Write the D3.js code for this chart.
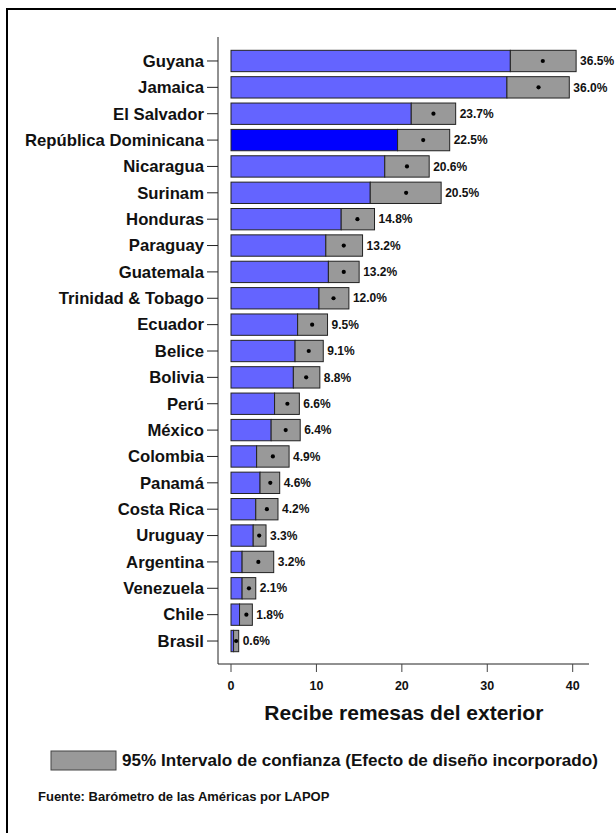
<!DOCTYPE html>
<html><head><meta charset="utf-8">
<script src="https://cdn.jsdelivr.net/npm/d3@7"></script>
<style>body{margin:0;background:#fff}svg{display:block;font-family:"Liberation Sans",Arial,sans-serif}</style>
</head><body><svg id="c" width="616" height="833"></svg>
<script>
const countries = ["Guyana","Jamaica","El Salvador","República Dominicana","Nicaragua","Surinam","Honduras","Paraguay","Guatemala","Trinidad & Tobago","Ecuador","Belice","Bolivia","Perú","México","Colombia","Panamá","Costa Rica","Uruguay","Argentina","Venezuela","Chile","Brasil"];
const means = [36.5,36.0,23.7,22.5,20.6,20.5,14.8,13.2,13.2,12.0,9.5,9.1,8.8,6.6,6.4,4.9,4.6,4.2,3.3,3.2,2.1,1.8,0.6];
const ciLow = [32.7,32.3,21.1,19.5,18.0,16.3,12.9,11.1,11.4,10.3,7.8,7.5,7.3,5.1,4.7,3.0,3.4,2.9,2.6,1.3,1.3,1.0,0.3];
const ciHigh = [40.4,39.6,26.3,25.6,23.2,24.6,16.8,15.4,15.0,13.8,11.3,10.8,10.4,8.0,8.1,6.8,5.7,5.5,4.1,5.0,2.9,2.5,0.9];
const highlight = "República Dominicana";
const xTicks = [0,10,20,30,40];
const xTitle = "Recibe remesas del exterior";
const legendText = "95% Intervalo de confianza (Efecto de diseño incorporado)";
const sourceText = "Fuente: Barómetro de las Américas por LAPOP";

const svg = d3.select("#c");
// frame
svg.append("rect").attr("x",7).attr("y",9).attr("width",640).attr("height",860)
  .attr("fill","none").attr("stroke","#000").attr("stroke-width",2);

const x = d3.scaleLinear().domain([0,40]).range([231,572.7]);
const y = d3.scaleBand().domain(countries).range([47.8,654.2]).paddingInner(0.19).paddingOuter(0.095);

const data = countries.map((c,i)=>({c,m:means[i],lo:ciLow[i],hi:ciHigh[i]}));

// y axis
svg.append("line").attr("x1",218).attr("x2",218).attr("y1",37).attr("y2",664).attr("stroke","#222").attr("stroke-width",1);
const yg = svg.append("g");
yg.selectAll("line").data(countries).join("line")
  .attr("x1",207).attr("x2",218).attr("y1",d=>y(d)+y.bandwidth()/2).attr("y2",d=>y(d)+y.bandwidth()/2)
  .attr("stroke","#222");
yg.selectAll("text").data(countries).join("text")
  .attr("x",204).attr("y",d=>y(d)+y.bandwidth()/2).attr("dy","0.35em")
  .attr("text-anchor","end").attr("font-weight","bold").attr("font-size","16.7px").attr("fill","#111").text(d=>d);

// x axis
svg.append("line").attr("x1",218).attr("x2",589).attr("y1",664).attr("y2",664).attr("stroke","#222");
const xg = svg.append("g");
xg.selectAll("line").data(xTicks).join("line")
  .attr("x1",d=>x(d)).attr("x2",d=>x(d)).attr("y1",664).attr("y2",672).attr("stroke","#444");
xg.selectAll("text").data(xTicks).join("text")
  .attr("x",d=>x(d)).attr("y",690).attr("text-anchor","middle").attr("font-weight","bold")
  .attr("font-size","12.5px").attr("fill","#111").text(d=>d);
svg.append("text").attr("x",(x(0)+x(40))/2+2).attr("y",720).attr("text-anchor","middle")
  .attr("font-weight","bold").attr("font-size","21px").attr("fill","#111").text(xTitle);

// bars
const bars = svg.append("g");
bars.selectAll("rect.main").data(data).join("rect").attr("class","main")
  .attr("x",x(0)).attr("y",d=>y(d.c)).attr("width",d=>x(d.lo)-x(0)).attr("height",y.bandwidth())
  .attr("fill",d=>d.c===highlight?"#0000ff":"#6464ff").attr("stroke","#222").attr("stroke-width",1);
bars.selectAll("rect.ci").data(data).join("rect").attr("class","ci")
  .attr("x",d=>x(d.lo)).attr("y",d=>y(d.c)).attr("width",d=>x(d.hi)-x(d.lo)).attr("height",y.bandwidth())
  .attr("fill","#999999").attr("stroke","#222").attr("stroke-width",1);
bars.selectAll("circle").data(data).join("circle")
  .attr("cx",d=>x(d.m)).attr("cy",d=>y(d.c)+y.bandwidth()/2).attr("r",2.1).attr("fill","#000");
bars.selectAll("text").data(data).join("text")
  .attr("x",d=>x(d.hi)+4).attr("y",d=>y(d.c)+y.bandwidth()/2).attr("dy","0.35em")
  .attr("font-weight","bold").attr("font-size","12px").attr("fill","#111").text(d=>d.m.toFixed(1)+"%");

// legend
svg.append("rect").attr("x",51).attr("y",751).attr("width",65).attr("height",19)
  .attr("fill","#999999").attr("stroke","#444").attr("stroke-width",1);
svg.append("text").attr("x",122).attr("y",766).attr("font-weight","bold").attr("font-size","17.1px")
  .attr("fill","#111").text(legendText);
svg.append("text").attr("x",38).attr("y",801).attr("font-weight","bold").attr("font-size","13px")
  .attr("fill","#111").text(sourceText);
</script></body></html>
